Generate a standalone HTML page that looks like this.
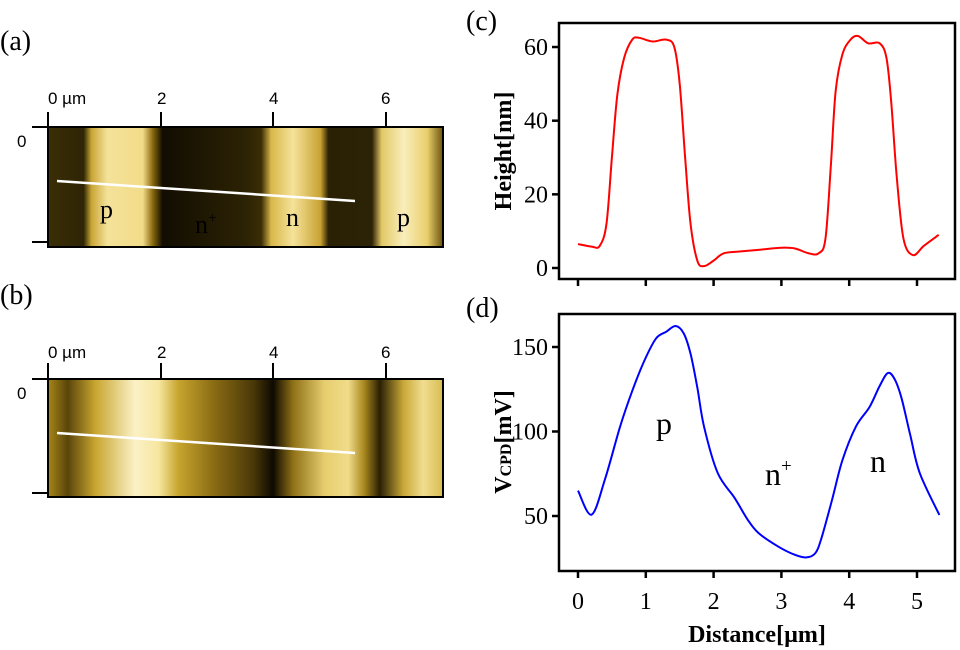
<!DOCTYPE html>
<html><head><meta charset="utf-8"><style>
html,body{margin:0;padding:0;background:#fff;width:960px;height:650px;overflow:hidden}
svg text{font-family:"Liberation Serif",serif;fill:#000}
.sans{font-family:"Liberation Sans",sans-serif}
</style></head><body>
<svg id="fig" width="960" height="650" viewBox="0 0 960 650">
<defs>
<linearGradient id="ga" x1="48" x2="443" y1="0" y2="0" gradientUnits="userSpaceOnUse">
<stop offset="0" stop-color="#3a2e06"/><stop offset="0.09" stop-color="#2f2505"/>
<stop offset="0.11" stop-color="#c9a534"/><stop offset="0.15" stop-color="#f4e29a"/><stop offset="0.24" stop-color="#f2dc88"/>
<stop offset="0.265" stop-color="#8a6a10"/><stop offset="0.29" stop-color="#120d01"/><stop offset="0.5" stop-color="#2c2204"/>
<stop offset="0.54" stop-color="#3a2d06"/><stop offset="0.565" stop-color="#d9b84a"/><stop offset="0.62" stop-color="#f5e39a"/>
<stop offset="0.69" stop-color="#c9a233"/><stop offset="0.71" stop-color="#2a2004"/><stop offset="0.82" stop-color="#2c2205"/>
<stop offset="0.845" stop-color="#e2c866"/><stop offset="0.9" stop-color="#f9eebc"/><stop offset="0.96" stop-color="#e9cf6c"/>
<stop offset="1" stop-color="#6b520c"/>
</linearGradient>
<linearGradient id="gb" x1="48" x2="443" y1="0" y2="0" gradientUnits="userSpaceOnUse">
<stop offset="0" stop-color="#a78618"/><stop offset="0.05" stop-color="#5a450a"/><stop offset="0.12" stop-color="#c9a630"/>
<stop offset="0.22" stop-color="#fbf1c6"/><stop offset="0.28" stop-color="#f6e6a0"/><stop offset="0.33" stop-color="#c7a52e"/>
<stop offset="0.42" stop-color="#8a6c14"/><stop offset="0.52" stop-color="#4a3808"/><stop offset="0.57" stop-color="#0e0a01"/>
<stop offset="0.62" stop-color="#8f7016"/><stop offset="0.7" stop-color="#e6cd6e"/><stop offset="0.76" stop-color="#f0dc8a"/>
<stop offset="0.8" stop-color="#a9881e"/><stop offset="0.84" stop-color="#2a2004"/><stop offset="0.9" stop-color="#c9a838"/>
<stop offset="0.95" stop-color="#f0dd90"/><stop offset="1" stop-color="#d8bc52"/>
</linearGradient>
</defs>

<text x="0" y="50" font-size="28">(a)</text>
<rect x="48" y="127" width="395" height="120" fill="url(#ga)" stroke="#000" stroke-width="2"/>
<g stroke="#000" stroke-width="2">
<line x1="48" y1="112" x2="48" y2="127"/><line x1="161" y1="112" x2="161" y2="127"/><line x1="273" y1="112" x2="273" y2="127"/><line x1="386" y1="112" x2="386" y2="127"/>
<line x1="32" y1="127" x2="48" y2="127"/><line x1="32" y1="242" x2="48" y2="242"/></g>
<g>
<text class="sans" font-size="17" x="48" y="104">0 µm</text><text class="sans" font-size="17" x="157" y="104">2</text><text class="sans" font-size="17" x="269" y="104">4</text><text class="sans" font-size="17" x="381" y="104">6</text><text class="sans" font-size="17" x="17" y="147">0</text></g>
<line x1="57" y1="181" x2="355" y2="201" stroke="#fff" stroke-width="2.5"/>
<g font-size="26">
<text x="100" y="218">p</text><text x="195" y="233">n<tspan font-size="16" dy="-10">+</tspan></text><text x="286" y="226">n</text><text x="397" y="226">p</text></g>

<text x="0" y="304" font-size="28">(b)</text>
<rect x="48" y="379" width="395" height="118" fill="url(#gb)" stroke="#000" stroke-width="2"/>
<g stroke="#000" stroke-width="2">
<line x1="48" y1="363" x2="48" y2="379"/><line x1="161" y1="363" x2="161" y2="379"/><line x1="273" y1="363" x2="273" y2="379"/><line x1="386" y1="363" x2="386" y2="379"/>
<line x1="32" y1="379" x2="48" y2="379"/><line x1="32" y1="493" x2="48" y2="493"/></g>
<g>
<text class="sans" font-size="17" x="48" y="358">0 µm</text><text class="sans" font-size="17" x="157" y="358">2</text><text class="sans" font-size="17" x="269" y="358">4</text><text class="sans" font-size="17" x="381" y="358">6</text><text class="sans" font-size="17" x="17" y="399">0</text></g>
<line x1="57" y1="433" x2="355" y2="453" stroke="#fff" stroke-width="2.5"/>

<text x="466" y="30" font-size="28">(c)</text>
<text x="466" y="317" font-size="28">(d)</text>
<rect x="559" y="23" width="396" height="256" fill="none" stroke="#000" stroke-width="2.5"/>
<rect x="559" y="314" width="396" height="257" fill="none" stroke="#000" stroke-width="2.5"/>
<text transform="translate(511,151) rotate(-90)" text-anchor="middle" font-size="24" font-weight="bold">Height[nm]</text>
<text transform="translate(511,442) rotate(-90)" text-anchor="middle" font-size="24" font-weight="bold">V<tspan font-size="16">CPD</tspan>[mV]</text>
<text x="757" y="642" text-anchor="middle" font-size="24" font-weight="bold">Distance[µm]</text>
<g font-size="32">
<text x="656" y="434">p</text><text x="765" y="485">n<tspan font-size="19" dy="-13">+</tspan></text><text x="870" y="472">n</text></g>
<g id="axes"></g>
</svg>
<script>
const heightX=[0,0.2,0.32,0.42,0.5,0.58,0.68,0.8,0.9,1.1,1.3,1.42,1.5,1.58,1.66,1.76,1.86,2.0,2.15,2.4,2.7,3.0,3.2,3.4,3.55,3.65,3.73,3.8,3.9,4.02,4.13,4.28,4.45,4.55,4.62,4.7,4.8,4.94,5.1,5.32];
const heightY=[6.5,5.8,6,12,30,47,57,62,62.5,61.5,62,60,50,30,12,2,0.5,2,4,4.5,5,5.5,5.3,4,4,8,28,48,58,62,63,61,61,57,45,25,8,3.5,6,9];
const vcpdX=[0,0.2,0.4,0.62,0.8,0.98,1.15,1.3,1.44,1.56,1.66,1.76,1.86,2.06,2.31,2.5,2.66,2.95,3.2,3.37,3.5,3.59,3.75,3.9,4.1,4.3,4.45,4.57,4.67,4.77,4.9,5.04,5.33];
const vcpdY=[65,50.8,72,102.8,124,142,155,159,162.4,158,146,126,102.7,75.5,60.7,48,40,32,27,25.5,28,36.8,60,83,103,114.5,127,134.6,131,120,98,75.5,50.6];
const xTicks=[0,1,2,3,4,5];
const hTicks=[0,20,40,60];
const vTicks=[50,100,150];
const sx=v=>578+v*67.8;
const syH=v=>268-v*3.683;
const syV=v=>347-(v-150)*1.69;
const NS="http://www.w3.org/2000/svg";
const g=document.getElementById('axes');
function mk(t,a){const e=document.createElementNS(NS,t);for(const k in a)e.setAttribute(k,a[k]);g.appendChild(e);return e;}
function path(xs,ys,fy){const p=xs.map((x,i)=>[sx(x),fy(ys[i])]);let d=`M${p[0][0]},${p[0][1]}`;
for(let i=0;i<p.length-1;i++){const p0=p[Math.max(0,i-1)],p1=p[i],p2=p[i+1],p3=p[Math.min(p.length-1,i+2)];
d+=` C${p1[0]+(p2[0]-p0[0])/6},${p1[1]+(p2[1]-p0[1])/6} ${p2[0]-(p3[0]-p1[0])/6},${p2[1]-(p3[1]-p1[1])/6} ${p2[0]},${p2[1]}`;}return d;}
xTicks.forEach(t=>{
 const a=mk('line',{x1:sx(t),x2:sx(t),y1:279,y2:286,stroke:'#000','stroke-width':2.5});
 
 
 const b=mk('line',{x1:sx(t),x2:sx(t),y1:571,y2:578,stroke:'#000','stroke-width':2.5});
 
 
 const l=mk('text',{x:sx(t),y:609,'text-anchor':'middle','font-size':24});l.textContent=t;
 
 
});
hTicks.forEach(t=>{
 const a=mk('line',{x1:552,x2:559,y1:syH(t),y2:syH(t),stroke:'#000','stroke-width':2.5});
 
 
 const l=mk('text',{x:548,y:syH(t)+8,'text-anchor':'end','font-size':24});l.textContent=t;
 
 
});
vTicks.forEach(t=>{
 const a=mk('line',{x1:552,x2:559,y1:syV(t),y2:syV(t),stroke:'#000','stroke-width':2.5});
 
 
 const l=mk('text',{x:548,y:syV(t)+8,'text-anchor':'end','font-size':24});l.textContent=t;
 
 
});
const hl=mk('path',{d:path(heightX,heightY,syH),fill:'none',stroke:'#ff0000','stroke-width':2});


const vl=mk('path',{d:path(vcpdX,vcpdY,syV),fill:'none',stroke:'#0000ff','stroke-width':2});


</script>
</body></html>
